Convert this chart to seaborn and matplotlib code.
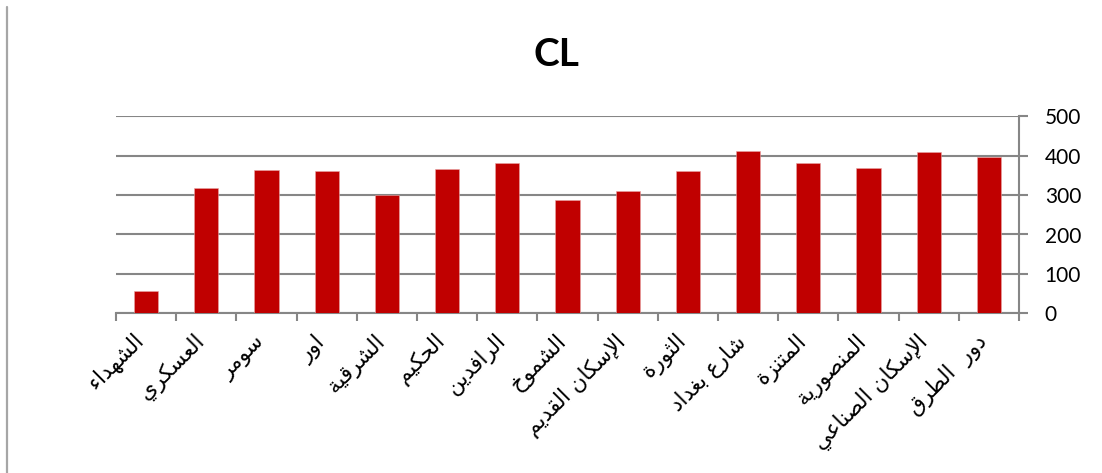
import matplotlib
matplotlib.use("Agg")
import matplotlib.pyplot as plt
import seaborn as sns
import pandas as pd
from matplotlib.lines import Line2D
from matplotlib.ticker import FixedLocator

# Data
areas = ["الشهداء", "العسكري", "سومر", "اور", "الشرقية", "الحكيم", "الرافدين", "الشموخ",
         "الإسكان القديم", "الثورة", "شارع بغداد", "المتنزة", "المنصورية",
         "الإسكان الصناعي", "دور  الطرق"]
cl_values = [57, 317, 364, 361, 300, 367, 381, 288, 310, 361, 412, 381, 370, 410, 397]
y_ticks = [0, 100, 200, 300, 400, 500]
title = "CL"

# matplotlib has no Arabic shaping, so map letters to presentation forms
ISOLATED = {"ء": 0xFE80, "آ": 0xFE81, "أ": 0xFE83, "ؤ": 0xFE85, "إ": 0xFE87, "ئ": 0xFE89,
            "ا": 0xFE8D, "ب": 0xFE8F, "ة": 0xFE93, "ت": 0xFE95, "ث": 0xFE99, "ج": 0xFE9D,
            "ح": 0xFEA1, "خ": 0xFEA5, "د": 0xFEA9, "ذ": 0xFEAB, "ر": 0xFEAD, "ز": 0xFEAF,
            "س": 0xFEB1, "ش": 0xFEB5, "ص": 0xFEB9, "ض": 0xFEBD, "ط": 0xFEC1, "ظ": 0xFEC5,
            "ع": 0xFEC9, "غ": 0xFECD, "ف": 0xFED1, "ق": 0xFED5, "ك": 0xFED9, "ل": 0xFEDD,
            "م": 0xFEE1, "ن": 0xFEE5, "ه": 0xFEE9, "و": 0xFEED, "ى": 0xFEEF, "ي": 0xFEF1}
DUAL = set("ئبتثجحخسشصضطظعغفقكلمنهي")
LAM_ALEF = {"آ": 0xFEF5, "أ": 0xFEF7, "إ": 0xFEF9, "ا": 0xFEFB}


def shape(text):
    out = []
    i = 0
    while i < len(text):
        ch = text[i]
        if ch not in ISOLATED:
            out.append(ch)
            i += 1
            continue
        prev = text[i - 1] if i > 0 else ""
        link_prev = int(prev in DUAL and ch != "ء")
        nxt = text[i + 1] if i + 1 < len(text) else ""
        if ch == "ل" and nxt in LAM_ALEF:
            out.append(chr(LAM_ALEF[nxt] + link_prev))
            i += 2
            continue
        link_next = int(ch in DUAL and nxt in ISOLATED and nxt != "ء")
        if ch in DUAL:
            out.append(chr(ISOLATED[ch] + link_prev + 2 * link_next))
        else:
            out.append(chr(ISOLATED[ch] + link_prev))
        i += 1
    return "".join(reversed(out))


df = pd.DataFrame({"area": areas, "cl": cl_values})

sns.set_style("white")
plt.rcParams["font.family"] = ["Lato", "DejaVu Sans"]
plt.rcParams["text.color"] = "black"
plt.rcParams["xtick.labelcolor"] = "black"
plt.rcParams["ytick.labelcolor"] = "black"

fig = plt.figure(figsize=(11.02, 4.73), dpi=100)
ax = fig.add_axes([116 / 1102, 1 - 313.3 / 473, (1019 - 116) / 1102, (313.3 - 116.3) / 473])

sns.barplot(data=df, x="area", y="cl", color="#C00000", width=0.4, saturation=1,
            edgecolor="#E8A6A6", linewidth=0.4, ax=ax, zorder=3)

grey = "#868686"
ax.set_ylim(0, 500)
ax.set_xlim(-0.5, len(areas) - 0.5)
ax.set_yticks(y_ticks)
ax.yaxis.tick_right()
ax.grid(axis="y", color=grey, linewidth=1.5, zorder=0)
ax.grid(axis="x", visible=False)
for side in ["left", "top"]:
    ax.spines[side].set_visible(False)
for side in ["right", "bottom"]:
    ax.spines[side].set_color(grey)
    ax.spines[side].set_linewidth(1.5)

ax.tick_params(axis="y", which="major", length=6.5, width=1.5, color=grey,
               pad=12, labelsize=15, right=True, left=False)
ax.set_xticks(range(len(areas)))
# trailing space nudges each label a little down-left along its slant
ax.set_xticklabels([shape(a) + " " for a in areas], rotation=45, ha="right", va="center",
                   rotation_mode="anchor", family="DejaVu Sans", fontsize=15.5)
ax.tick_params(axis="x", which="major", length=0, pad=15)
ax.xaxis.set_minor_locator(FixedLocator([i - 0.5 for i in range(len(areas) + 1)]))
ax.tick_params(axis="x", which="minor", length=6, width=1.5, color=grey, bottom=True)
ax.set_xlabel("")
ax.set_ylabel("")

fig.text(556 / 1102, 1 - 55 / 473, title, ha="center", va="center",
         fontsize=28, fontweight="bold", family="Lato", color="black")

fig.add_artist(Line2D([7 / 1102, 7 / 1102], [0, 1 - 7 / 473], color="#a6a6a6",
                      linewidth=1.6, transform=fig.transFigure))

fig.savefig("out.png", dpi=100)
